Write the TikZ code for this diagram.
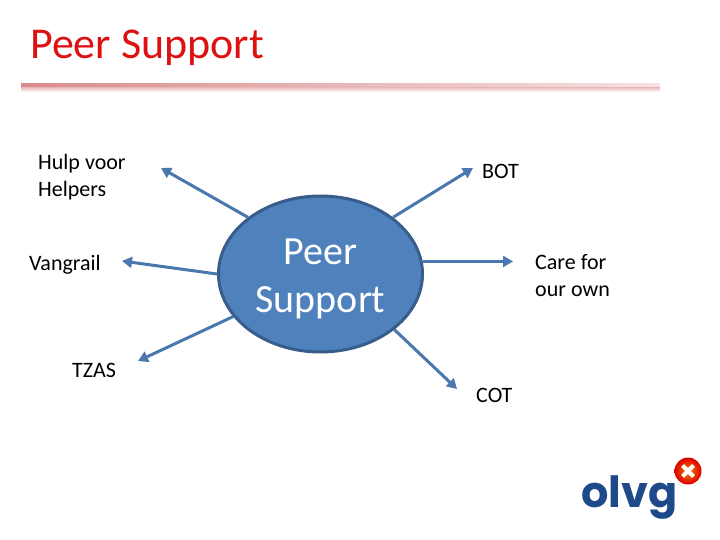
\documentclass[tikz,border=0pt]{standalone}
\usepackage{fontspec}
\setmainfont{Carlito}
\newfontfamily\logofont{Poppins}
\usetikzlibrary{arrows.meta,positioning,calc,shapes.geometric}
\definecolor{hubblue}{HTML}{4F81BD}
\definecolor{hubedge}{HTML}{385D8A}
\definecolor{titlered}{HTML}{DD1111}
\definecolor{logoblue}{HTML}{1F4A8A}
\definecolor{barred}{HTML}{D98C8C}
\begin{document}
\begin{tikzpicture}[x=1pt,y=-1pt,
  hub/.style={draw=hubedge, fill=hubblue, line width=3pt, ellipse, minimum width=204pt,
              minimum height=156pt, inner sep=0pt},
hubtxt/.style={align=center, inner sep=0pt, text=white, font=\fontsize{40}{48}\selectfont},
lnk/.style={-{Triangle[length=10pt,width=11pt]}, draw=hubblue!92!black, line width=3pt},
lbl/.style={font=\fontsize{22}{27}\selectfont, align=left, inner sep=0pt},
]
\useasboundingbox (0,0) rectangle (720,540);
\node[anchor=west, inner sep=0pt, text=titlered, font=\fontsize{44}{48}\selectfont] (title) at (30,48) {Peer Support};
\shade[left color=barred, right color=barred!25] (21,84) rectangle (660,88);
\shade[top color=barred!50, bottom color=white] (21,88) rectangle (660,92);
\node[hub] (hub) at (320.5,274) {};
\node[hubtxt] (hubtext) at (320.5,279) {Peer\\Support};
\node[lbl, anchor=west] (hulp) at (38,177) {Hulp voor\\Helpers};
\node[lbl, anchor=west] (bot) at (482,171) {BOT};
\node[lbl, anchor=west] (vangrail) at (29,265) {Vangrail};
\node[lbl, anchor=west] (care) at (535,276) {Care for\\our own};
\node[lbl, anchor=west] (tzas) at (72,370) {TZAS};
\node[lbl, anchor=west] (cot) at (476,395) {COT};
\coordinate (hulptip) at (161,168);
\coordinate (bottip) at (473,168);
\coordinate (vangrailtip) at (122,261);
\coordinate (caretip) at (513,261);
\coordinate (tzastip) at (138,361);
\coordinate (cottip) at (457,389);
\draw[lnk] (hub.142) -- (hulptip);
\draw[lnk] (hub.38) -- (bottip);
\draw[lnk] (hub.180) -- (vangrailtip);
\draw[lnk] (hub.7) -- (hub.7 -| caretip);
\draw[lnk] (hub.206) -- (tzastip);
\draw[lnk] (hub.-37) -- (cottip);
% logo
\node[anchor=base west, inner sep=0pt, text=logoblue, font=\logofont\bfseries\fontsize{43}{43}\selectfont] (logo) at (581,507) {olvg};
\node[circle, shading=radial, inner color=orange, outer color=red!85!black, minimum size=27pt, inner sep=0pt] (badge) at (688,471) {};
\draw[white, line width=4pt] ($(badge)+(-5.5,-5.5)$) -- ($(badge)+(5.5,5.5)$);
\draw[white, line width=4pt] ($(badge)+(-5.5,5.5)$) -- ($(badge)+(5.5,-5.5)$);
\end{tikzpicture}
\end{document}
